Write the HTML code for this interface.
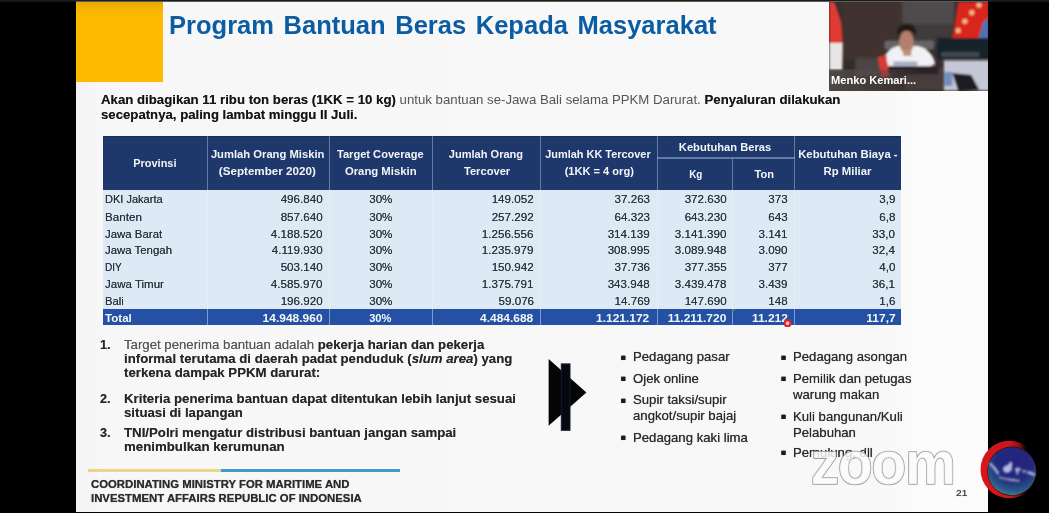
<!DOCTYPE html>
<html lang="id">
<head>
<meta charset="utf-8">
<title>Program Bantuan Beras Kepada Masyarakat</title>
<style>
html,body{margin:0;padding:0;background:#000;}
body{width:1049px;height:513px;position:relative;overflow:hidden;font-family:"Liberation Sans",sans-serif;}
.abs{position:absolute;}
.t{position:absolute;white-space:pre;line-height:1;font-family:"Liberation Sans",sans-serif;}
#slide{left:76px;top:0;width:911.5px;height:512px;background:linear-gradient(90deg,#f3f3f3 0,#f7f7f7 2.5%,#f8f8f8 88%,#fcfcfc 94%,#fbfbfb 100%);}
#topbar{left:0;top:0;width:1049px;height:2px;background:linear-gradient(#1b1b1b 0,#1b1b1b 55%,rgba(40,40,40,.35) 100%);}
#yellow{left:76px;top:1.5px;width:86.6px;height:80px;background:linear-gradient(#e9a800 0,#fcb900 10px,#fdba00 100%);}
#thead{left:103px;top:135.6px;width:798.3px;height:54px;background:#1f386c;border-top:1px solid #182c58;box-sizing:border-box;}
#tbody{left:103px;top:189.6px;width:798.3px;height:119.2px;background:#dde9f5;}
#ttotal{left:103px;top:308.9px;width:798.3px;height:16.2px;background:#2451a3;}
.vh{position:absolute;top:136.4px;height:53.2px;width:1.6px;background:#8fa2c8;opacity:.62;}
.vb{position:absolute;top:189.8px;height:119px;width:1.4px;background:#eef4fb;opacity:.4;}
.vt{position:absolute;top:308.9px;height:16.2px;width:1.2px;background:#8aa4d6;opacity:.9;}
</style>
</head>
<body>
<div id="slide" class="abs"></div>
<div id="yellow" class="abs"></div>
<div id="topbar" class="abs"></div>

<!-- table backgrounds -->
<div id="thead" class="abs"></div>
<div id="tbody" class="abs"></div>
<div id="ttotal" class="abs"></div>
<div class="vh" style="left:206.6px"></div><div class="vh" style="left:328.6px"></div><div class="vh" style="left:431.5px"></div><div class="vh" style="left:539.6px"></div><div class="vh" style="left:656.8px"></div><div class="vh" style="left:731.9px;top:158px;height:31.6px"></div><div class="vh" style="left:793.5px"></div>
<div class="abs" style="left:657px;top:157px;width:137.5px;height:1.6px;background:#8fa2c8;opacity:.62"></div>
<div class="vb" style="left:206.6px"></div><div class="vb" style="left:328.6px"></div><div class="vb" style="left:431.5px"></div><div class="vb" style="left:539.6px"></div><div class="vb" style="left:656.8px"></div><div class="vb" style="left:731.9px"></div><div class="vb" style="left:793.5px"></div>
<div class="vt" style="left:206.6px"></div><div class="vt" style="left:328.6px"></div><div class="vt" style="left:431.5px"></div><div class="vt" style="left:539.6px"></div><div class="vt" style="left:656.8px"></div><div class="vt" style="left:731.9px"></div><div class="vt" style="left:793.5px"></div>

<!-- arrow -->
<svg class="abs" style="left:540px;top:350px;filter:blur(.4px)" width="60" height="90" viewBox="540 350 60 90">
<polygon points="548.6,359 586.4,392.4 548.6,425.8" fill="#050505"/>
<rect x="561.3" y="363.9" width="8.7" height="66.4" fill="#07080f" stroke="#121d3c" stroke-width="1"/>
</svg>

<!-- footer rule -->
<div class="abs" style="left:87.6px;top:469px;width:133.4px;height:3px;background:#e9d48a"></div>
<div class="abs" style="left:221px;top:469px;width:179.2px;height:3px;background:#3f9bcb"></div>


<svg class="abs" style="left:828.7px;top:2px" width="159.6" height="89" viewBox="828.7 2 159.6 89">
<defs>
<filter id="vb" x="-5%" y="-5%" width="110%" height="110%"><feGaussianBlur stdDeviation="0.9"/></filter>
<filter id="vb2" x="-10%" y="-10%" width="120%" height="120%"><feGaussianBlur stdDeviation="1.6"/></filter>
<clipPath id="vc"><rect x="828.7" y="2" width="159.6" height="89"/></clipPath>
<linearGradient id="vlab" x1="0" x2="1"><stop offset="0" stop-color="#5a5553" stop-opacity=".7"/><stop offset=".7" stop-color="#4a4442" stop-opacity=".45"/><stop offset="1" stop-color="#3a3432" stop-opacity="0"/></linearGradient>
</defs>
<g clip-path="url(#vc)">
<rect x="828" y="1" width="162" height="91" fill="#3a2e2c"/>
<g filter="url(#vb2)">
<rect x="843" y="0" width="58" height="60" fill="#41322d"/>
<rect x="902" y="0" width="52" height="24" fill="#4f4b4d"/>
<rect x="902" y="24" width="52" height="20" fill="#3f3a3b"/>
<rect x="828" y="62" width="112" height="30" fill="#33292a"/>
<rect x="855" y="58" width="30" height="18" fill="#4b4444"/>
<rect x="905" y="68" width="38" height="22" fill="#4a3e3a"/>
</g>
<g filter="url(#vb)">
<!-- left flag -->
<polygon points="829,2 834,2 841,22 842.5,43 829,43" fill="#df3b30"/>
<polygon points="829,43 842.5,43 842,70 829,70" fill="#e9e5e7"/>
<!-- right flag -->
<polygon points="958,2 988.5,2 988.5,38 952,38" fill="#d8271e"/>
<polygon points="983,22 988.5,18 988.5,39 978,39" fill="#4a73b4"/>
<circle cx="978.7" cy="5" r="2.6" fill="#f2b98a"/><circle cx="971.5" cy="12.6" r="2.6" fill="#f2b98a"/><circle cx="964.6" cy="21.3" r="2.6" fill="#f2b98a"/><circle cx="957.9" cy="30.5" r="2.6" fill="#f2b98a"/>
<!-- monitor -->
<rect x="937" y="38" width="52" height="21" fill="#18222c"/>
<rect x="941" y="52" width="38" height="5" fill="#3c4750"/>
<!-- paper / laptop -->
<rect x="943.5" y="60.5" width="46" height="30" fill="#c4c7d6"/>
<polygon points="952,73 971,75 979,90 958,91" fill="#1c1c22"/>
<rect x="944" y="72" width="8" height="14" fill="#6f8fc0"/>
<!-- man -->
<rect x="884" y="40.5" width="50" height="9" rx="3" fill="#6f6f76" opacity=".8"/>
<path d="M882 64 Q884 50 897 46 L918 46 Q932 50 935 64 L930 66 L884 66 Z" fill="#f1f1f5"/>
<ellipse cx="906.2" cy="42" rx="7.4" ry="11.4" fill="#b47f6d"/>
<path d="M896.6 35.5 Q896 24.5 906 24.3 Q916 24.3 915.6 35 Q911 30.5 906 31 Q900.5 31 896.6 35.5 Z" fill="#241817"/>
<rect x="903" y="50" width="8" height="6" fill="#c08e7e"/>
<!-- desk flag -->
<polygon points="877,57 886,55 890,76 881,78" fill="#d93a33"/>
<polygon points="886,58 892,60 894,72 890,74" fill="#efefef"/>
<!-- desk dark -->
<rect x="888" y="66" width="50" height="8" fill="#2a2326"/>
<rect x="893" y="61.5" width="24" height="4" fill="#8e99b8" opacity=".8"/>
</g>
<rect x="828.7" y="69.5" width="95" height="21.5" fill="url(#vlab)"/>
</g>
</svg>



<svg class="abs" style="left:970px;top:432px" width="79" height="78" viewBox="970 432 79 78">
<defs>
<filter id="gb" x="-10%" y="-10%" width="120%" height="120%"><feGaussianBlur stdDeviation="0.75"/></filter>
<filter id="gb2" x="-20%" y="-20%" width="140%" height="140%"><feGaussianBlur stdDeviation="0.9"/></filter>
<radialGradient id="gg" cx="0.55" cy="0.32" r="0.78"><stop offset="0" stop-color="#23237a"/><stop offset=".5" stop-color="#202a7c"/><stop offset=".76" stop-color="#2a5a88"/><stop offset="1" stop-color="#41a090"/></radialGradient>
<linearGradient id="gr" gradientUnits="userSpaceOnUse" x1="980" x2="1030" y1="0" y2="0"><stop offset="0" stop-color="#d8181d"/><stop offset=".62" stop-color="#c9161b"/><stop offset=".8" stop-color="#b01318" stop-opacity=".75"/><stop offset=".95" stop-color="#700b0e" stop-opacity="0"/></linearGradient>
</defs>
<g filter="url(#gb)">
<circle cx="1009.25" cy="469.55" r="28.75" fill="url(#gr)"/>
<circle cx="1011.9" cy="471.2" r="24.6" fill="#3a0a12"/>
<circle cx="1011.9" cy="471.2" r="24" fill="url(#gg)"/>
</g>
<g filter="url(#gb2)" fill="#c3c8e6" stroke="none">
<path d="M988.6 463.6 l2.2 -.8 q5.4 4.6 8.8 10.6 l-2.2 1.4 q-4 -6.4 -8.8 -11.2z" opacity=".85"/>
<path d="M999 476.2 q6 2 12 2.6 q5 .4 9 1.4 l-.3 1.5 q-11 -.2 -21 -3.6z" opacity=".75"/>
<path d="M1002.8 468.6 q1.6 -3.4 5 -3.6 l2.6 -3.4 2 1 -.6 7.4 q-2.4 3.4 -5.6 3 q-3 -.6 -3.4 -4.4z" opacity=".9"/>
<path d="M1014.6 469 l3.4 -2.2 .8 1.8 2.2 -.6 -.8 3 -2.2 .4 .6 3.4 -2 -.4 -.6 -2.6z" opacity=".85"/>
<path d="M1022.6 469.8 l3.4 .6 -.6 2.4 -2.6 -.2z M1027 471 q5 .2 8.4 2.8 l-.8 2.4 q-3.6 -1.6 -7.4 -2.4z" opacity=".85"/>
</g>
</svg>

<div id="txt" class="abs" style="left:0;top:0;width:1049px;height:513px;filter:blur(.45px)">
<span class="t" style="left:169.10px;transform-origin:0 0;top:12.71px;font-size:25.5px;font-weight:bold;color:#0b5ca2;transform:scaleX(1.0008)"><span style='word-spacing:2.5px'>Program Bantuan Beras Kepada Masyarakat</span></span>
<span class="t" style="left:100.60px;transform-origin:0 0;top:93.83px;font-size:12.6px;color:#141414;text-shadow:0 0 .6px rgba(0,0,0,.55);transform:scaleX(1.0495)"><b>Akan dibagikan 11 ribu ton beras (1KK = 10 kg)</b> <span style='color:#555;text-shadow:none'>untuk bantuan se-Jawa Bali selama PPKM Darurat.</span> <b>Penyaluran dilakukan</b></span>
<span class="t" style="left:100.60px;transform-origin:0 0;top:109.33px;font-size:12.6px;color:#141414;text-shadow:0 0 .6px rgba(0,0,0,.55);transform:scaleX(1.0468)"><b>secepatnya, paling lambat minggu II Juli.</b></span>
<span class="t" style="left:132.32px;transform-origin:50% 0;top:157.48px;font-size:11.6px;font-weight:bold;color:#f2f4f8;transform:scaleX(0.9464)">Provinsi</span>
<span class="t" style="left:208.97px;transform-origin:50% 0;top:148.48px;font-size:11.6px;font-weight:bold;color:#f2f4f8;transform:scaleX(0.9679)">Jumlah Orang Miskin</span>
<span class="t" style="left:219.37px;transform-origin:50% 0;top:165.38px;font-size:11.6px;font-weight:bold;color:#f2f4f8;transform:scaleX(1.0046)">(September 2020)</span>
<span class="t" style="left:335.18px;transform-origin:50% 0;top:148.48px;font-size:11.6px;font-weight:bold;color:#f2f4f8;transform:scaleX(0.9565)">Target Coverage</span>
<span class="t" style="left:343.77px;transform-origin:50% 0;top:165.38px;font-size:11.6px;font-weight:bold;color:#f2f4f8;transform:scaleX(0.9761)">Orang Miskin</span>
<span class="t" style="left:447.32px;transform-origin:50% 0;top:148.48px;font-size:11.6px;font-weight:bold;color:#f2f4f8;transform:scaleX(0.9531)">Jumlah Orang</span>
<span class="t" style="left:462.74px;transform-origin:50% 0;top:165.38px;font-size:11.6px;font-weight:bold;color:#f2f4f8;transform:scaleX(0.9621)">Tercover</span>
<span class="t" style="left:542.45px;transform-origin:50% 0;top:148.48px;font-size:11.6px;font-weight:bold;color:#f2f4f8;transform:scaleX(0.9419)">Jumlah KK Tercover</span>
<span class="t" style="left:562.56px;transform-origin:50% 0;top:165.38px;font-size:11.6px;font-weight:bold;color:#f2f4f8;transform:scaleX(0.9547)">(1KK = 4 org)</span>
<span class="t" style="left:677.10px;transform-origin:50% 0;top:141.08px;font-size:11.6px;font-weight:bold;color:#f2f4f8;transform:scaleX(0.9615)">Kebutuhan Beras</span>
<span class="t" style="left:687.97px;transform-origin:50% 0;top:168.48px;font-size:11.6px;font-weight:bold;color:#f2f4f8;transform:scaleX(0.8533)">Kg</span>
<span class="t" style="left:753.80px;transform-origin:50% 0;top:168.48px;font-size:11.6px;font-weight:bold;color:#f2f4f8;transform:scaleX(0.9563)">Ton</span>
<span class="t" style="left:796.81px;transform-origin:50% 0;top:148.48px;font-size:11.6px;font-weight:bold;color:#f2f4f8;transform:scaleX(0.9766)">Kebutuhan Biaya -</span>
<span class="t" style="left:822.82px;transform-origin:50% 0;top:165.38px;font-size:11.6px;font-weight:bold;color:#f2f4f8;transform:scaleX(0.9782)">Rp Miliar</span>
<span class="t" style="left:105.00px;transform-origin:0 0;top:194.41px;font-size:11.8px;color:#2b303a;text-shadow:0 0 .5px rgba(25,30,45,.75);transform:scaleX(0.9344)">DKI Jakarta</span>
<span class="t" style="left:279.74px;transform-origin:100% 0;top:194.41px;font-size:11.8px;color:#2b303a;text-shadow:0 0 .5px rgba(25,30,45,.75);transform:scaleX(0.9850)">496.840</span>
<span class="t" style="left:490.94px;transform-origin:100% 0;top:194.41px;font-size:11.8px;color:#2b303a;text-shadow:0 0 .5px rgba(25,30,45,.75);transform:scaleX(0.9850)">149.052</span>
<span class="t" style="left:613.51px;transform-origin:100% 0;top:194.41px;font-size:11.8px;color:#2b303a;text-shadow:0 0 .5px rgba(25,30,45,.75);transform:scaleX(0.9850)">37.263</span>
<span class="t" style="left:683.74px;transform-origin:100% 0;top:194.41px;font-size:11.8px;color:#2b303a;text-shadow:0 0 .5px rgba(25,30,45,.75);transform:scaleX(0.9850)">372.630</span>
<span class="t" style="left:768.01px;transform-origin:100% 0;top:194.41px;font-size:11.8px;color:#2b303a;text-shadow:0 0 .5px rgba(25,30,45,.75);transform:scaleX(0.9850)">373</span>
<span class="t" style="left:878.99px;transform-origin:100% 0;top:194.41px;font-size:11.8px;color:#2b303a;text-shadow:0 0 .5px rgba(25,30,45,.75);transform:scaleX(0.9850)">3,9</span>
<span class="t" style="left:368.99px;transform-origin:50% 0;top:194.41px;font-size:11.8px;color:#2b303a;text-shadow:0 0 .5px rgba(25,30,45,.75);transform:scaleX(0.9850)">30%</span>
<span class="t" style="left:105.00px;transform-origin:0 0;top:211.51px;font-size:11.8px;color:#2b303a;text-shadow:0 0 .5px rgba(25,30,45,.75);transform:scaleX(0.9896)">Banten</span>
<span class="t" style="left:279.74px;transform-origin:100% 0;top:211.51px;font-size:11.8px;color:#2b303a;text-shadow:0 0 .5px rgba(25,30,45,.75);transform:scaleX(0.9850)">857.640</span>
<span class="t" style="left:490.94px;transform-origin:100% 0;top:211.51px;font-size:11.8px;color:#2b303a;text-shadow:0 0 .5px rgba(25,30,45,.75);transform:scaleX(0.9850)">257.292</span>
<span class="t" style="left:613.51px;transform-origin:100% 0;top:211.51px;font-size:11.8px;color:#2b303a;text-shadow:0 0 .5px rgba(25,30,45,.75);transform:scaleX(0.9850)">64.323</span>
<span class="t" style="left:683.74px;transform-origin:100% 0;top:211.51px;font-size:11.8px;color:#2b303a;text-shadow:0 0 .5px rgba(25,30,45,.75);transform:scaleX(0.9850)">643.230</span>
<span class="t" style="left:768.01px;transform-origin:100% 0;top:211.51px;font-size:11.8px;color:#2b303a;text-shadow:0 0 .5px rgba(25,30,45,.75);transform:scaleX(0.9850)">643</span>
<span class="t" style="left:878.99px;transform-origin:100% 0;top:211.51px;font-size:11.8px;color:#2b303a;text-shadow:0 0 .5px rgba(25,30,45,.75);transform:scaleX(0.9850)">6,8</span>
<span class="t" style="left:368.99px;transform-origin:50% 0;top:211.51px;font-size:11.8px;color:#2b303a;text-shadow:0 0 .5px rgba(25,30,45,.75);transform:scaleX(0.9850)">30%</span>
<span class="t" style="left:105.00px;transform-origin:0 0;top:228.51px;font-size:11.8px;color:#2b303a;text-shadow:0 0 .5px rgba(25,30,45,.75);transform:scaleX(0.9692)">Jawa Barat</span>
<span class="t" style="left:269.92px;transform-origin:100% 0;top:228.51px;font-size:11.8px;color:#2b303a;text-shadow:0 0 .5px rgba(25,30,45,.75);transform:scaleX(0.9850)">4.188.520</span>
<span class="t" style="left:481.12px;transform-origin:100% 0;top:228.51px;font-size:11.8px;color:#2b303a;text-shadow:0 0 .5px rgba(25,30,45,.75);transform:scaleX(0.9850)">1.256.556</span>
<span class="t" style="left:606.94px;transform-origin:100% 0;top:228.51px;font-size:11.8px;color:#2b303a;text-shadow:0 0 .5px rgba(25,30,45,.75);transform:scaleX(0.9850)">314.139</span>
<span class="t" style="left:673.92px;transform-origin:100% 0;top:228.51px;font-size:11.8px;color:#2b303a;text-shadow:0 0 .5px rgba(25,30,45,.75);transform:scaleX(0.9850)">3.141.390</span>
<span class="t" style="left:758.17px;transform-origin:100% 0;top:228.51px;font-size:11.8px;color:#2b303a;text-shadow:0 0 .5px rgba(25,30,45,.75);transform:scaleX(0.9850)">3.141</span>
<span class="t" style="left:872.43px;transform-origin:100% 0;top:228.51px;font-size:11.8px;color:#2b303a;text-shadow:0 0 .5px rgba(25,30,45,.75);transform:scaleX(0.9850)">33,0</span>
<span class="t" style="left:368.99px;transform-origin:50% 0;top:228.51px;font-size:11.8px;color:#2b303a;text-shadow:0 0 .5px rgba(25,30,45,.75);transform:scaleX(0.9850)">30%</span>
<span class="t" style="left:105.00px;transform-origin:0 0;top:245.31px;font-size:11.8px;color:#2b303a;text-shadow:0 0 .5px rgba(25,30,45,.75);transform:scaleX(0.9666)">Jawa Tengah</span>
<span class="t" style="left:270.79px;transform-origin:100% 0;top:245.31px;font-size:11.8px;color:#2b303a;text-shadow:0 0 .5px rgba(25,30,45,.75);transform:scaleX(0.9850)">4.119.930</span>
<span class="t" style="left:481.12px;transform-origin:100% 0;top:245.31px;font-size:11.8px;color:#2b303a;text-shadow:0 0 .5px rgba(25,30,45,.75);transform:scaleX(0.9850)">1.235.979</span>
<span class="t" style="left:606.94px;transform-origin:100% 0;top:245.31px;font-size:11.8px;color:#2b303a;text-shadow:0 0 .5px rgba(25,30,45,.75);transform:scaleX(0.9850)">308.995</span>
<span class="t" style="left:673.92px;transform-origin:100% 0;top:245.31px;font-size:11.8px;color:#2b303a;text-shadow:0 0 .5px rgba(25,30,45,.75);transform:scaleX(0.9850)">3.089.948</span>
<span class="t" style="left:758.17px;transform-origin:100% 0;top:245.31px;font-size:11.8px;color:#2b303a;text-shadow:0 0 .5px rgba(25,30,45,.75);transform:scaleX(0.9850)">3.090</span>
<span class="t" style="left:872.43px;transform-origin:100% 0;top:245.31px;font-size:11.8px;color:#2b303a;text-shadow:0 0 .5px rgba(25,30,45,.75);transform:scaleX(0.9850)">32,4</span>
<span class="t" style="left:368.99px;transform-origin:50% 0;top:245.31px;font-size:11.8px;color:#2b303a;text-shadow:0 0 .5px rgba(25,30,45,.75);transform:scaleX(0.9850)">30%</span>
<span class="t" style="left:105.00px;transform-origin:0 0;top:261.91px;font-size:11.8px;color:#2b303a;text-shadow:0 0 .5px rgba(25,30,45,.75);transform:scaleX(0.8540)">DIY</span>
<span class="t" style="left:279.74px;transform-origin:100% 0;top:261.91px;font-size:11.8px;color:#2b303a;text-shadow:0 0 .5px rgba(25,30,45,.75);transform:scaleX(0.9850)">503.140</span>
<span class="t" style="left:490.94px;transform-origin:100% 0;top:261.91px;font-size:11.8px;color:#2b303a;text-shadow:0 0 .5px rgba(25,30,45,.75);transform:scaleX(0.9850)">150.942</span>
<span class="t" style="left:613.51px;transform-origin:100% 0;top:261.91px;font-size:11.8px;color:#2b303a;text-shadow:0 0 .5px rgba(25,30,45,.75);transform:scaleX(0.9850)">37.736</span>
<span class="t" style="left:683.74px;transform-origin:100% 0;top:261.91px;font-size:11.8px;color:#2b303a;text-shadow:0 0 .5px rgba(25,30,45,.75);transform:scaleX(0.9850)">377.355</span>
<span class="t" style="left:768.01px;transform-origin:100% 0;top:261.91px;font-size:11.8px;color:#2b303a;text-shadow:0 0 .5px rgba(25,30,45,.75);transform:scaleX(0.9850)">377</span>
<span class="t" style="left:878.99px;transform-origin:100% 0;top:261.91px;font-size:11.8px;color:#2b303a;text-shadow:0 0 .5px rgba(25,30,45,.75);transform:scaleX(0.9850)">4,0</span>
<span class="t" style="left:368.99px;transform-origin:50% 0;top:261.91px;font-size:11.8px;color:#2b303a;text-shadow:0 0 .5px rgba(25,30,45,.75);transform:scaleX(0.9850)">30%</span>
<span class="t" style="left:105.00px;transform-origin:0 0;top:279.01px;font-size:11.8px;color:#2b303a;text-shadow:0 0 .5px rgba(25,30,45,.75);transform:scaleX(0.9766)">Jawa Timur</span>
<span class="t" style="left:269.92px;transform-origin:100% 0;top:279.01px;font-size:11.8px;color:#2b303a;text-shadow:0 0 .5px rgba(25,30,45,.75);transform:scaleX(0.9850)">4.585.970</span>
<span class="t" style="left:481.12px;transform-origin:100% 0;top:279.01px;font-size:11.8px;color:#2b303a;text-shadow:0 0 .5px rgba(25,30,45,.75);transform:scaleX(0.9850)">1.375.791</span>
<span class="t" style="left:606.94px;transform-origin:100% 0;top:279.01px;font-size:11.8px;color:#2b303a;text-shadow:0 0 .5px rgba(25,30,45,.75);transform:scaleX(0.9850)">343.948</span>
<span class="t" style="left:673.92px;transform-origin:100% 0;top:279.01px;font-size:11.8px;color:#2b303a;text-shadow:0 0 .5px rgba(25,30,45,.75);transform:scaleX(0.9850)">3.439.478</span>
<span class="t" style="left:758.17px;transform-origin:100% 0;top:279.01px;font-size:11.8px;color:#2b303a;text-shadow:0 0 .5px rgba(25,30,45,.75);transform:scaleX(0.9850)">3.439</span>
<span class="t" style="left:872.43px;transform-origin:100% 0;top:279.01px;font-size:11.8px;color:#2b303a;text-shadow:0 0 .5px rgba(25,30,45,.75);transform:scaleX(0.9850)">36,1</span>
<span class="t" style="left:368.99px;transform-origin:50% 0;top:279.01px;font-size:11.8px;color:#2b303a;text-shadow:0 0 .5px rgba(25,30,45,.75);transform:scaleX(0.9850)">30%</span>
<span class="t" style="left:105.00px;transform-origin:0 0;top:296.01px;font-size:11.8px;color:#2b303a;text-shadow:0 0 .5px rgba(25,30,45,.75);transform:scaleX(0.9557)">Bali</span>
<span class="t" style="left:279.74px;transform-origin:100% 0;top:296.01px;font-size:11.8px;color:#2b303a;text-shadow:0 0 .5px rgba(25,30,45,.75);transform:scaleX(0.9850)">196.920</span>
<span class="t" style="left:497.51px;transform-origin:100% 0;top:296.01px;font-size:11.8px;color:#2b303a;text-shadow:0 0 .5px rgba(25,30,45,.75);transform:scaleX(0.9850)">59.076</span>
<span class="t" style="left:613.51px;transform-origin:100% 0;top:296.01px;font-size:11.8px;color:#2b303a;text-shadow:0 0 .5px rgba(25,30,45,.75);transform:scaleX(0.9850)">14.769</span>
<span class="t" style="left:683.74px;transform-origin:100% 0;top:296.01px;font-size:11.8px;color:#2b303a;text-shadow:0 0 .5px rgba(25,30,45,.75);transform:scaleX(0.9850)">147.690</span>
<span class="t" style="left:768.01px;transform-origin:100% 0;top:296.01px;font-size:11.8px;color:#2b303a;text-shadow:0 0 .5px rgba(25,30,45,.75);transform:scaleX(0.9850)">148</span>
<span class="t" style="left:878.99px;transform-origin:100% 0;top:296.01px;font-size:11.8px;color:#2b303a;text-shadow:0 0 .5px rgba(25,30,45,.75);transform:scaleX(0.9850)">1,6</span>
<span class="t" style="left:368.99px;transform-origin:50% 0;top:296.01px;font-size:11.8px;color:#2b303a;text-shadow:0 0 .5px rgba(25,30,45,.75);transform:scaleX(0.9850)">30%</span>
<span class="t" style="left:105.00px;transform-origin:0 0;top:312.73px;font-size:11.3px;font-weight:bold;color:#f4f6fa;transform:scaleX(1.0246)">Total</span>
<span class="t" style="left:265.85px;transform-origin:100% 0;top:312.73px;font-size:11.3px;font-weight:bold;color:#f4f6fa;transform:scaleX(1.0600)">14.948.960</span>
<span class="t" style="left:483.33px;transform-origin:100% 0;top:312.73px;font-size:11.3px;font-weight:bold;color:#f4f6fa;transform:scaleX(1.0600)">4.484.688</span>
<span class="t" style="left:599.33px;transform-origin:100% 0;top:312.73px;font-size:11.3px;font-weight:bold;color:#f4f6fa;transform:scaleX(1.0600)">1.121.172</span>
<span class="t" style="left:671.10px;transform-origin:100% 0;top:312.73px;font-size:11.3px;font-weight:bold;color:#f4f6fa;transform:scaleX(1.0600)">11.211.720</span>
<span class="t" style="left:753.76px;transform-origin:100% 0;top:312.73px;font-size:11.3px;font-weight:bold;color:#f4f6fa;transform:scaleX(1.0600)">11.212</span>
<span class="t" style="left:867.74px;transform-origin:100% 0;top:312.73px;font-size:11.3px;font-weight:bold;color:#f4f6fa;transform:scaleX(1.0600)">117,7</span>
<span class="t" style="left:369.49px;transform-origin:50% 0;top:312.73px;font-size:11.3px;font-weight:bold;color:#f4f6fa;transform:scaleX(0.9850)">30%</span>
<span class="t" style="left:99.60px;transform-origin:0 0;top:338.76px;font-size:12.1px;color:#262626;text-shadow:0 0 .6px rgba(0,0,0,.5);transform:scaleX(1.0502)"><b>1.</b></span>
<span class="t" style="left:124.40px;transform-origin:0 0;top:338.76px;font-size:12.1px;color:#262626;text-shadow:0 0 .6px rgba(0,0,0,.5);transform:scaleX(1.0914)"><span style='color:#555'>Target penerima bantuan adalah</span> <b>pekerja harian dan pekerja</b></span>
<span class="t" style="left:124.40px;transform-origin:0 0;top:352.96px;font-size:12.1px;color:#262626;text-shadow:0 0 .6px rgba(0,0,0,.5);transform:scaleX(1.0922)"><b>informal terutama di daerah padat penduduk (<i>slum area</i>) yang</b></span>
<span class="t" style="left:124.40px;transform-origin:0 0;top:367.26px;font-size:12.1px;color:#262626;text-shadow:0 0 .6px rgba(0,0,0,.5);transform:scaleX(1.0933)"><b>terkena dampak PPKM darurat:</b></span>
<span class="t" style="left:99.60px;transform-origin:0 0;top:393.26px;font-size:12.1px;color:#262626;text-shadow:0 0 .6px rgba(0,0,0,.5);transform:scaleX(1.0502)"><b>2.</b></span>
<span class="t" style="left:124.40px;transform-origin:0 0;top:393.26px;font-size:12.1px;color:#262626;text-shadow:0 0 .6px rgba(0,0,0,.5);transform:scaleX(1.0944)"><b>Kriteria penerima bantuan dapat ditentukan lebih lanjut sesuai</b></span>
<span class="t" style="left:124.40px;transform-origin:0 0;top:407.16px;font-size:12.1px;color:#262626;text-shadow:0 0 .6px rgba(0,0,0,.5);transform:scaleX(1.0921)"><b>situasi di lapangan</b></span>
<span class="t" style="left:99.60px;transform-origin:0 0;top:427.46px;font-size:12.1px;color:#262626;text-shadow:0 0 .6px rgba(0,0,0,.5);transform:scaleX(1.0502)"><b>3.</b></span>
<span class="t" style="left:124.40px;transform-origin:0 0;top:427.46px;font-size:12.1px;color:#262626;text-shadow:0 0 .6px rgba(0,0,0,.5);transform:scaleX(1.0940)"><b>TNI/Polri mengatur distribusi bantuan jangan sampai</b></span>
<span class="t" style="left:124.40px;transform-origin:0 0;top:441.36px;font-size:12.1px;color:#262626;text-shadow:0 0 .6px rgba(0,0,0,.5);transform:scaleX(1.0968)"><b>menimbulkan kerumunan</b></span>
<span class="t" style="left:620.20px;transform-origin:0 0;top:348.51px;font-size:17px;color:#1a1a1a;text-shadow:0 0 .7px rgba(0,0,0,.7);transform:scaleX(1.0000)">&#9642;</span>
<span class="t" style="left:632.60px;transform-origin:0 0;top:351.43px;font-size:12.6px;color:#2a2a2a;text-shadow:0 0 .7px rgba(0,0,0,.7);transform:scaleX(1.0450)">Pedagang pasar</span>
<span class="t" style="left:620.20px;transform-origin:0 0;top:370.21px;font-size:17px;color:#1a1a1a;text-shadow:0 0 .7px rgba(0,0,0,.7);transform:scaleX(1.0000)">&#9642;</span>
<span class="t" style="left:632.60px;transform-origin:0 0;top:373.13px;font-size:12.6px;color:#2a2a2a;text-shadow:0 0 .7px rgba(0,0,0,.7);transform:scaleX(1.0450)">Ojek online</span>
<span class="t" style="left:620.20px;transform-origin:0 0;top:391.51px;font-size:17px;color:#1a1a1a;text-shadow:0 0 .7px rgba(0,0,0,.7);transform:scaleX(1.0000)">&#9642;</span>
<span class="t" style="left:632.60px;transform-origin:0 0;top:394.43px;font-size:12.6px;color:#2a2a2a;text-shadow:0 0 .7px rgba(0,0,0,.7);transform:scaleX(1.0450)">Supir taksi/supir</span>
<span class="t" style="left:632.60px;transform-origin:0 0;top:410.43px;font-size:12.6px;color:#2a2a2a;text-shadow:0 0 .7px rgba(0,0,0,.7);transform:scaleX(1.0450)">angkot/supir bajaj</span>
<span class="t" style="left:620.20px;transform-origin:0 0;top:429.01px;font-size:17px;color:#1a1a1a;text-shadow:0 0 .7px rgba(0,0,0,.7);transform:scaleX(1.0000)">&#9642;</span>
<span class="t" style="left:632.60px;transform-origin:0 0;top:431.93px;font-size:12.6px;color:#2a2a2a;text-shadow:0 0 .7px rgba(0,0,0,.7);transform:scaleX(1.0450)">Pedagang kaki lima</span>
<span class="t" style="left:780.50px;transform-origin:0 0;top:348.51px;font-size:17px;color:#1a1a1a;text-shadow:0 0 .7px rgba(0,0,0,.7);transform:scaleX(1.0000)">&#9642;</span>
<span class="t" style="left:792.80px;transform-origin:0 0;top:351.43px;font-size:12.6px;color:#2a2a2a;text-shadow:0 0 .7px rgba(0,0,0,.7);transform:scaleX(1.0450)">Pedagang asongan</span>
<span class="t" style="left:780.50px;transform-origin:0 0;top:370.21px;font-size:17px;color:#1a1a1a;text-shadow:0 0 .7px rgba(0,0,0,.7);transform:scaleX(1.0000)">&#9642;</span>
<span class="t" style="left:792.80px;transform-origin:0 0;top:373.13px;font-size:12.6px;color:#2a2a2a;text-shadow:0 0 .7px rgba(0,0,0,.7);transform:scaleX(1.0450)">Pemilik dan petugas</span>
<span class="t" style="left:792.80px;transform-origin:0 0;top:388.83px;font-size:12.6px;color:#2a2a2a;text-shadow:0 0 .7px rgba(0,0,0,.7);transform:scaleX(1.0450)">warung makan</span>
<span class="t" style="left:780.50px;transform-origin:0 0;top:408.01px;font-size:17px;color:#1a1a1a;text-shadow:0 0 .7px rgba(0,0,0,.7);transform:scaleX(1.0000)">&#9642;</span>
<span class="t" style="left:792.80px;transform-origin:0 0;top:410.93px;font-size:12.6px;color:#2a2a2a;text-shadow:0 0 .7px rgba(0,0,0,.7);transform:scaleX(1.0450)">Kuli bangunan/Kuli</span>
<span class="t" style="left:792.80px;transform-origin:0 0;top:426.83px;font-size:12.6px;color:#2a2a2a;text-shadow:0 0 .7px rgba(0,0,0,.7);transform:scaleX(1.0450)">Pelabuhan</span>
<span class="t" style="left:780.50px;transform-origin:0 0;top:444.21px;font-size:17px;color:#1a1a1a;text-shadow:0 0 .7px rgba(0,0,0,.7);transform:scaleX(1.0000)">&#9642;</span>
<span class="t" style="left:792.80px;transform-origin:0 0;top:447.13px;font-size:12.6px;color:#2a2a2a;text-shadow:0 0 .7px rgba(0,0,0,.7);transform:scaleX(1.0450)">Pemulung, dll</span>
<span class="t" style="left:91.30px;transform-origin:0 0;top:479.21px;font-size:10.5px;font-weight:bold;color:#2b2b2b;text-shadow:0 0 .7px rgba(0,0,0,.7);transform:scaleX(1.0808)">COORDINATING MINISTRY FOR MARITIME AND</span>
<span class="t" style="left:91.30px;transform-origin:0 0;top:493.11px;font-size:10.5px;font-weight:bold;color:#2b2b2b;text-shadow:0 0 .7px rgba(0,0,0,.7);transform:scaleX(1.0812)">INVESTMENT AFFAIRS REPUBLIC OF INDONESIA</span>
<span class="t" style="left:955.80px;transform-origin:0 0;top:488.93px;font-size:9.3px;color:#444;text-shadow:0 0 .7px rgba(0,0,0,.7);transform:scaleX(1.1021)">21</span>
<span class="t" style="left:830.60px;transform-origin:0 0;top:74.52px;font-size:11.2px;font-weight:bold;color:#ffffff;transform:scaleX(0.9930)">Menko Kemari...</span>
</div>

<svg class="abs" style="left:800px;top:440px" width="170" height="60" viewBox="800 440 170 60">
<defs><filter id="zb" x="-5%" y="-20%" width="110%" height="140%"><feGaussianBlur stdDeviation="0.5"/></filter></defs>
<g filter="url(#zb)">
<text x="0" y="0" transform="translate(810.4 484.3) scale(0.925 1)" font-family="'Liberation Sans', sans-serif" font-weight="bold" font-size="62" fill="#fbfbfb" fill-opacity=".84" stroke="#9d9d9d" stroke-width="1.6" paint-order="stroke" stroke-linejoin="round" letter-spacing="-1.5">zoom</text>
</g>
</svg>

<svg class="abs" style="left:779px;top:314px" width="18" height="18" viewBox="779 314 18 18">
<defs><filter id="pb"><feGaussianBlur stdDeviation="0.5"/></filter></defs>
<g filter="url(#pb)"><circle cx="787.6" cy="323.2" r="2.9" fill="#f8c4c4" stroke="#e0202a" stroke-width="2.1"/></g>
</svg>
<svg class="abs" style="left:732px;top:308.9px" width="5" height="5" viewBox="0 0 5 5"><polygon points="0.5,0 4,0 0.5,3.5" fill="#2c8a43"/></svg>

</body>
</html>
